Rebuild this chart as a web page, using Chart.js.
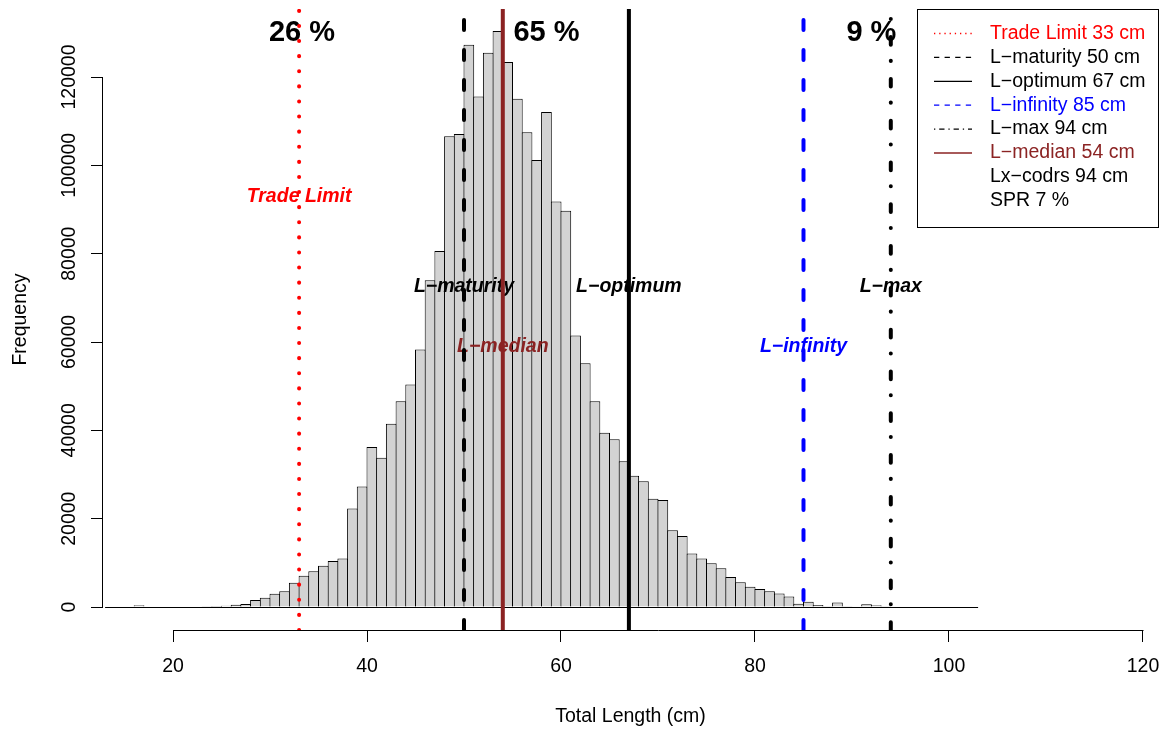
<!DOCTYPE html>
<html>
<head>
<meta charset="utf-8">
<script src="https://cdn.jsdelivr.net/npm/chart.js@4.4.1/dist/chart.umd.min.js"></script>
<style>
html,body{margin:0;padding:0;background:#fff;}
canvas{display:block;}
</style>
</head>
<body>
<canvas id="c" width="1168" height="731"></canvas>
<script>
// ---------- data ----------
const binStarts = [13,14,15,16,17,18,19,20,21,22,23,24,25,26,27,28,29,30,31,32,33,34,35,36,37,38,39,40,41,42,43,44,45,46,47,48,49,50,51,52,53,54,55,56,57,58,59,60,61,62,63,64,65,66,67,68,69,70,71,72,73,74,75,76,77,78,79,80,81,82,83,84,85,86,87,88,89,90,91,92,93,94,95,96,97,98,99,100,101,102];
const frequencies = [0,0,0,400,0,0,0,0,0,100,150,200,300,500,700,1600,2100,3000,3550,5500,7100,8100,9350,10400,11000,22300,27300,36200,33800,41500,46600,50400,58300,74000,80600,106600,107100,127300,115600,125500,130400,123400,115100,107500,101200,112100,91800,89700,61500,55200,46600,39450,38000,33000,29700,28500,24500,24200,17400,16100,12100,11000,9900,8800,6800,5600,4600,4100,3550,3050,2400,750,1200,450,150,1000,150,100,600,400,150,0,0,0,0,0,0,0,0,0];

const refNames  = ['Trade Limit','L\u2212maturity','L\u2212optimum','L\u2212infinity','L\u2212max','L\u2212median'];
const refValues = [33,50,67,85,94,54];
const refLabelHeights = [93000,72500,72500,59000,72500,59000];

const pctLabels = ['26 %','65 %','9 %'];
const pctPositions = [33.3,58.5,92.0];
const pctHeight = 130000;

const legendLabels = ['Trade Limit 33 cm','L\u2212maturity 50 cm','L\u2212optimum 67 cm','L\u2212infinity 85 cm','L\u2212max 94 cm','L\u2212median 54 cm','Lx\u2212codrs 94 cm','SPR 7 %'];

const xTicks = [20,40,60,80,100,120];
const yTicks = [0,20000,40000,60000,80000,100000,120000];

// ---------- styles ----------
const FONT = '"Liberation Sans", Arial, Helvetica, sans-serif';
const BROWN = '#8B2323';
const refColors = ['#FF0000','#000000','#000000','#0000FF','#000000',BROWN];
const refDash   = [[0.1,15],[10,20],[],[10,20],[7.7,18,0.1,16],[]];
const refCap    = ['round','round','butt','round','round','butt'];
const legendColors = ['#FF0000','#000000','#000000','#0000FF','#000000',BROWN,'#000000','#000000'];
const legendDash = [[1.3,3.9],[5.3,5.3],[],[5.3,5.3],[1.3,3.9,5.3,3.9],[],null,null];
const legendLineColors = ['#FF0000','#000000','#000000','#0000FF','#000000',BROWN,null,null];

const X_MIN = 12.7835, X_MAX = 121.5464;
const Y_MIN = -5207.5, Y_MAX = 135396.5;

const histData = binStarts.map((b,i)=>({x:b+0.5, y:frequencies[i]}));

Chart.defaults.font.family = FONT;
Chart.defaults.font.size = 19.5;
Chart.defaults.color = '#000';

const overlay = {
  id:'overlay',
  afterDatasetDraw(chart,args){
    if(args.index!==0) return;
    const {ctx, scales:{x,y}} = chart;
    ctx.save();
    ctx.strokeStyle='#000'; ctx.lineWidth=1;
    const by = y.getPixelForValue(0)+0.5;
    ctx.beginPath();
    ctx.moveTo(x.getPixelForValue(binStarts[0]), by);
    ctx.lineTo(x.getPixelForValue(binStarts[binStarts.length-1]+1), by);
    ctx.stroke();
    ctx.textAlign='center'; ctx.textBaseline='middle';
    ctx.font = 'italic bold 19.5px '+FONT;
    refNames.forEach((n,i)=>{
      ctx.fillStyle = refColors[i];
      ctx.fillText(n, x.getPixelForValue(refValues[i]), y.getPixelForValue(refLabelHeights[i]));
    });
    ctx.font = 'bold 29px '+FONT;
    ctx.fillStyle='#000';
    pctLabels.forEach((t,i)=>{
      ctx.fillText(t, x.getPixelForValue(pctPositions[i]), y.getPixelForValue(pctHeight));
    });
    ctx.restore();
  },
  afterDraw(chart){
    const {ctx, chartArea, scales:{x,y}} = chart;
    ctx.save();
    ctx.strokeStyle='#000'; ctx.lineWidth=1; ctx.setLineDash([]);
    ctx.beginPath();
    const ay = chartArea.bottom+0.5;
    ctx.moveTo(Math.round(x.getPixelForValue(xTicks[0]))+0.5, ay);
    ctx.lineTo(Math.round(x.getPixelForValue(xTicks[xTicks.length-1]))+0.5, ay);
    ctx.stroke();
    ctx.beginPath();
    const ax = chartArea.left-0.5;
    ctx.moveTo(ax, Math.round(y.getPixelForValue(yTicks[0]))+0.5);
    ctx.lineTo(ax, Math.round(y.getPixelForValue(yTicks[yTicks.length-1]))+0.5);
    ctx.stroke();
    // legend
    const right = chartArea.right, top = chartArea.top;
    const lw = 241, lh = 218;
    const lx = right - lw;
    ctx.fillStyle='#fff';
    ctx.fillRect(lx+0.5, top+0.5, lw, lh);
    ctx.strokeRect(lx+0.5, top+0.5, lw, lh);
    ctx.font = '19.5px '+FONT;
    ctx.textAlign='left'; ctx.textBaseline='middle';
    legendLabels.forEach((t,i)=>{
      const ry = top + 24.5 + 23.9*i;
      if(legendLineColors[i]){
        ctx.strokeStyle = legendLineColors[i];
        ctx.lineWidth = 1.3;
        ctx.setLineDash(legendDash[i]);
        ctx.beginPath();
        ctx.moveTo(lx+17, ry); ctx.lineTo(lx+55, ry);
        ctx.stroke();
      }
      ctx.fillStyle = legendColors[i];
      ctx.fillText(t, lx+73, ry);
    });
    ctx.restore();
  }
};

const lineSets = refValues.map((v,i)=>({
  type:'line',
  label: refNames[i],
  data:[{x:v,y:Y_MIN},{x:v,y:Y_MAX}],
  borderColor: refColors[i],
  borderWidth: 4,
  borderDash: refDash[i],
  borderCapStyle: refCap[i],
  pointRadius: 0,
  fill: false,
  tension: 0,
  order: 1,
  clip: 0
}));

function zeroPad(s){ s.paddingLeft = 0; s.paddingRight = 0; s.paddingTop = 0; s.paddingBottom = 0; }

new Chart(document.getElementById('c'), {
  type:'bar',
  data:{
    datasets:[
      {
        type:'bar', label:'Frequency', data: histData,
        backgroundColor:'#D3D3D3', borderColor:'#000', borderWidth:1,
        borderSkipped:'start', barPercentage:1.103, categoryPercentage:1,
        order:2
      },
      ...lineSets
    ]
  },
  options:{
    responsive:false,
    animation:false,
    events:[],
    layout:{padding:{left:0,right:10,top:9,bottom:0}},
    plugins:{legend:{display:false}, tooltip:{enabled:false}},
    scales:{
      x:{
        type:'linear', min:X_MIN, max:X_MAX, offset:false,
        afterBuildTicks:s=>{ s.ticks = xTicks.map(v=>({value:v})); },
        grid:{display:true, drawOnChartArea:false, drawTicks:true, tickLength:12, color:'#000', lineWidth:1, offset:false},
        border:{display:false},
        ticks:{color:'#000', font:{size:19.5}, padding:13, maxRotation:0, minRotation:0, autoSkip:false, callback:v=>String(v)},
        title:{display:true, text:'Total Length (cm)', color:'#000', font:{size:19.5}, padding:{top:0,bottom:3}},
        afterFit:s=>{ s.height = 101; zeroPad(s); }
      },
      y:{
        type:'linear', min:Y_MIN, max:Y_MAX,
        afterBuildTicks:s=>{ s.ticks = yTicks.map(v=>({value:v})); },
        grid:{display:true, drawOnChartArea:false, drawTicks:true, tickLength:12, color:'#000', lineWidth:1},
        border:{display:false},
        ticks:{color:'#000', font:{size:19.5}, padding:-11, minRotation:90, maxRotation:90, crossAlign:'center', autoSkip:false, callback:v=>String(v)},
        title:{display:true, text:'Frequency', color:'#000', font:{size:19.5}, padding:{top:9,bottom:0}},
        afterFit:s=>{ s.width = 103; zeroPad(s); }
      }
    }
  },
  plugins:[overlay]
});
</script>
</body>
</html>
